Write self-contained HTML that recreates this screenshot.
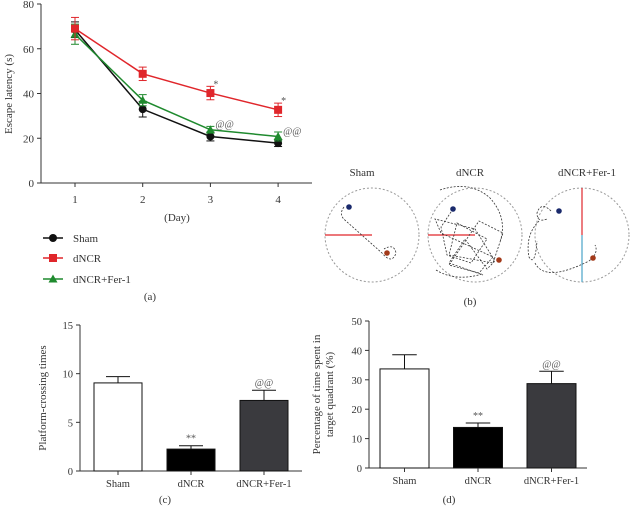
<!DOCTYPE html>
<html><head><meta charset="utf-8"><style>
body{margin:0;background:#fff;}
svg{display:block;font-family:"Liberation Serif",serif;}
</style></head><body>
<svg id="fig" width="630" height="511" viewBox="0 0 630 511"></svg>
<script>
const days=["1","2","3","4"];
const shamLat=[68.5,33,20.8,17.8];
const shamErr=[3.5,3.5,2,1.5];
const dncrLat=[69,48.8,40.2,32.7];
const dncrErr=[5,3,3,3];
const ferLat=[66.5,37,23.8,20.8];
const ferErr=[4.5,2.5,1.5,2];
const latTicks=[0,20,40,60,80];
const groups=["Sham","dNCR","dNCR+Fer-1"];
const crossVals=[9.05,2.25,7.25];
const crossErr=[0.65,0.35,1.05];
const crossTicks=[0,5,10,15];
const pctVals=[33.7,13.8,28.7];
const pctErr=[4.8,1.5,4.2];
const pctTicks=[0,10,20,30,40,50];
const sigC=["","**","@@"];

const svg=document.getElementById('fig');
const NS="http://www.w3.org/2000/svg";
function mk(tag,attrs,parent,text){const e=document.createElementNS(NS,tag);for(const k in attrs)e.setAttribute(k,attrs[k]);if(text!==undefined)e.textContent=text;(parent||svg).appendChild(e);return e;}

// ---------- Panel a ----------
const ga=mk('g',{});
const ax0=41,ax1=312,ay0=183,ay1=4;
const ya=v=>ay0-(v/80)*(ay0-ay1);
const xa=i=>75+i*67.7;
mk('line',{x1:ax0,y1:ay1,x2:ax0,y2:ay0,stroke:'#333','stroke-width':1},ga);
mk('line',{x1:ax0,y1:ay0,x2:ax1,y2:ay0,stroke:'#333','stroke-width':1},ga);
latTicks.forEach(t=>{mk('line',{x1:ax0-4,y1:ya(t),x2:ax0,y2:ya(t),stroke:'#333'},ga);
 const tx=mk('text',{x:ax0-7,y:ya(t)+4,'text-anchor':'end','font-size':11,fill:'#333'},ga,t);});
days.forEach((d,i)=>{mk('line',{x1:xa(i),y1:ay0,x2:xa(i),y2:ay0+4,stroke:'#333'},ga);
 const tx=mk('text',{x:xa(i),y:203,'text-anchor':'middle','font-size':11,fill:'#333'},ga,d);});
let t=mk('text',{x:177,y:221,'text-anchor':'middle','font-size':11,fill:'#333'},ga,'(Day)');
t=mk('text',{x:12,y:94,'text-anchor':'middle','font-size':11,fill:'#333',transform:'rotate(-90 12 94)'},ga,'Escape latency (s)');
function series(vals,errs,col,shape,name){
 const g=mk('g',{},ga);
 mk('polyline',{points:vals.map((v,i)=>xa(i)+','+ya(v)).join(' '),fill:'none',stroke:col,'stroke-width':1.5},g);
 vals.forEach((v,i)=>{const x=xa(i);
  mk('line',{x1:x,y1:ya(v-errs[i]),x2:x,y2:ya(v+errs[i]),stroke:col},g);
  mk('line',{x1:x-4,y1:ya(v+errs[i]),x2:x+4,y2:ya(v+errs[i]),stroke:col},g);
  mk('line',{x1:x-4,y1:ya(v-errs[i]),x2:x+4,y2:ya(v-errs[i]),stroke:col},g);
  marker(g,x,ya(v),col,shape);});
}
function marker(g,x,y,col,shape){
 if(shape==='c')mk('circle',{cx:x,cy:y,r:4,fill:col},g);
 else if(shape==='s')mk('rect',{x:x-4,y:y-4,width:8,height:8,fill:col},g);
 else mk('polygon',{points:`${x},${y-4.5} ${x-4.5},${y+3.5} ${x+4.5},${y+3.5}`,fill:col},g);
}
series(shamLat,shamErr,'#111','c','series-sham');
series(ferLat,ferErr,'#1f8a2e','t','series-dncr-fer1');
series(dncrLat,dncrErr,'#e0262b','s','series-dncr');
[2,3].forEach(i=>{
 mk('text',{x:xa(i)+3,y:ya(dncrLat[i]+dncrErr[i])+1,'font-size':10,fill:'#555'},ga,'*');
 mk('text',{x:xa(i)+5,y:ya(ferLat[i])-2,'font-size':10,fill:'#555'},ga,'@@');
});
const leg=[["Sham",'#111','c',238],["dNCR",'#e0262b','s',258],["dNCR+Fer-1",'#1f8a2e','t',279]];
leg.forEach(l=>{const g=mk('g',{},ga);
 mk('line',{x1:43,y1:l[3],x2:63,y2:l[3],stroke:l[1],'stroke-width':1.5},g);marker(g,53,l[3],l[1],l[2]);
 mk('text',{x:73,y:l[3]+4,'font-size':11,fill:'#333'},g,l[0]);});
t=mk('text',{x:150,y:300,'text-anchor':'middle','font-size':11,fill:'#333'},svg,'(a)');

// ---------- Panel b ----------
const gb=mk('g',{});
const pools=[{n:"Sham",cx:372,tx:362,b:[349,207],r:[387,253]},{n:"dNCR",cx:475,tx:470,b:[453,209],r:[499,260]},{n:"dNCR+Fer-1",cx:582,tx:587,b:[559,211],r:[593,258]}];
pools.forEach((p,k)=>{const g=mk('g',{},gb);
 mk('text',{x:p.tx,y:176,'text-anchor':'middle','font-size':11,fill:'#333'},g,p.n);
 mk('circle',{cx:p.cx,cy:235,r:47,fill:'none',stroke:'#999','stroke-width':1,'stroke-dasharray':'2 2'},g);
 if(k<2)mk('line',{x1:p.cx-47,y1:235,x2:p.cx,y2:235,stroke:'#e0262b','stroke-width':1.2},g);
 else{mk('line',{x1:p.cx,y1:188,x2:p.cx,y2:235,stroke:'#e0262b','stroke-width':1.2},g);mk('line',{x1:p.cx,y1:235,x2:p.cx,y2:282,stroke:'#4aa3c8','stroke-width':1.2},g);}
 let d;
 if(k===0)d=`M${p.b[0]-5},${p.b[1]} q-6,8 2,14 L${p.r[0]-5},${p.r[1]} q10,12 14,0 q-2,-10 -12,-4`;
 else if(k===1)d=`M453,209 l-12,18 l6,28 l24,8 l16,-24 l-30,-16 l-8,32 l44,8 l10,-30 l-24,-12 l-30,44 l30,8 l14,-16 l-52,-24 l-6,-14 l40,10 l20,32 l-8,8 l-22,-30 l-16,24 l34,12 M440,190 q30,-10 50,8 q18,20 10,44 M436,270 q20,12 46,4`;
 else d=`M${p.b[0]-8},${p.b[1]} q-10,-10 -14,2 q0,10 10,6 M${p.b[0]-20},${p.b[1]+10} q-14,14 -10,36 q6,10 8,-16 M${p.b[0]-24},${p.b[1]+52} q10,20 ${p.r[0]-p.b[0]+20},-2 q10,-8 6,-16`;
 mk('path',{d:d,fill:'none',stroke:'#333','stroke-width':0.8,'stroke-dasharray':'2 1.5'},g);
 mk('circle',{cx:p.b[0],cy:p.b[1],r:2.8,fill:'#1a2a6c'},g);
 mk('circle',{cx:p.r[0],cy:p.r[1],r:2.8,fill:'#a33a1a'},g);
});
t=mk('text',{x:470,y:305,'text-anchor':'middle','font-size':11,fill:'#333'},svg,'(b)');

// ---------- Bar charts ----------
function bars(cfg){
 const g=mk('g',{});
 const y=v=>cfg.y0-(v/cfg.max)*(cfg.y0-cfg.y1);
 mk('line',{x1:cfg.ax,y1:cfg.y1,x2:cfg.ax,y2:cfg.y0,stroke:'#333'},g);
 mk('line',{x1:cfg.ax,y1:cfg.y0,x2:cfg.axEnd,y2:cfg.y0,stroke:'#333'},g);
 cfg.ticks.forEach(tk=>{mk('line',{x1:cfg.ax-4,y1:y(tk),x2:cfg.ax,y2:y(tk),stroke:'#333'},g);
  const tx=mk('text',{x:cfg.ax-7,y:y(tk)+4,'text-anchor':'end','font-size':10.5,fill:'#333'},g,tk);});
 const fills=['#fff','#000','#3a3a3e'];
 cfg.vals.forEach((v,i)=>{const x0=cfg.bx+i*cfg.step,w=cfg.bw,cx=x0+w/2;
  const r=mk('rect',{x:x0,y:y(v),width:w,height:cfg.y0-y(v),fill:fills[i],stroke:'#111','stroke-width':1},g);
  
  const te=y(v+cfg.errs[i]);
  mk('line',{x1:cx,y1:y(v),x2:cx,y2:te,stroke:'#111'},g);
  mk('line',{x1:cx-w/4,y1:te,x2:cx+w/4,y2:te,stroke:'#111'},g);
  mk('line',{x1:cx,y1:cfg.y0,x2:cx,y2:cfg.y0+4,stroke:'#333'},g);
  const tx=mk('text',{x:cx,y:cfg.y0+16,'text-anchor':'middle','font-size':10.5,fill:'#333'},g,groups[i]);
  if(sigC[i])mk('text',{x:cx,y:te-4,'text-anchor':'middle','font-size':10,fill:'#555'},g,sigC[i]);
 });
 cfg.title.forEach((tl,j)=>{const tx=mk('text',{x:cfg.tx+j*13,y:cfg.y0-(cfg.y0-cfg.y1)/2,'text-anchor':'middle','font-size':11,fill:'#333',transform:`rotate(-90 ${cfg.tx+j*13} ${cfg.y0-(cfg.y0-cfg.y1)/2})`},g,tl);});
 const pl=mk('text',{x:cfg.lx,y:503,'text-anchor':'middle','font-size':11,fill:'#333'},svg,cfg.label);
}
bars({name:'bar-chart-platform-crossing',vals:crossVals,errs:crossErr,ticks:crossTicks,max:15,ax:80,axEnd:302,y0:471,y1:325,bx:94,bw:48,step:73,title:['Platform-crossing times'],tx:46,lx:165,label:'(c)'});
bars({name:'bar-chart-target-quadrant',vals:pctVals,errs:pctErr,ticks:pctTicks,max:50,ax:369,axEnd:587,y0:468,y1:321,bx:380,bw:49,step:73.5,title:['Percentage of time spent in','target quadrant (%)'],tx:320,lx:449,label:'(d)'});
</script>
</body></html>
